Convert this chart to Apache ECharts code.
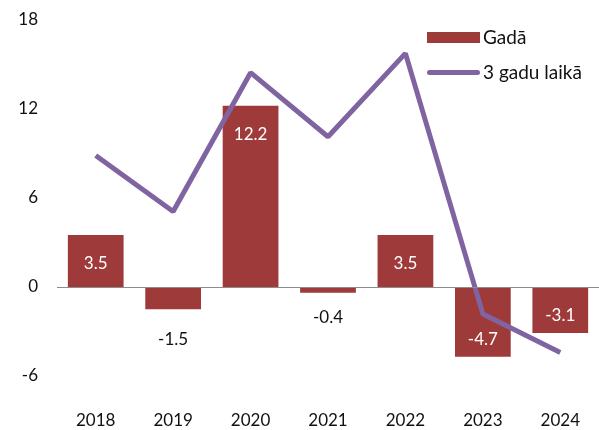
<!DOCTYPE html>
<html><head><meta charset="utf-8">
<script src="https://cdn.jsdelivr.net/npm/echarts@6/dist/echarts.min.js"></script>
<style>html,body{margin:0;padding:0;background:#fff}#c{width:599px;height:430px}</style>
</head><body><div id="c"></div>
<script>
const categories = ['2018','2019','2020','2021','2022','2023','2024'];
const annualValues = [3.5, -1.5, 12.2, -0.4, 3.5, -4.7, -3.1];
const threeYearValues = [8.84, 5.07, 14.42, 10.11, 15.72, -1.82, -4.42];
const yTicks = [-6, 0, 6, 12, 18];
const seriesNames = ['Gadā', '3 gadu laikā'];

const FONT = 'Lato';
const barData = annualValues.map(function (v) {
  var inside = Math.abs(v) >= 2;
  var lbl;
  if (v >= 0) {
    lbl = inside ? {position: 'insideTop', distance: 20, color: '#fff'} : {position: 'top', distance: 14, color: '#111'};
  } else {
    lbl = inside ? {position: 'insideBottom', distance: 9, color: '#fff'} : {position: 'bottom', distance: v < -1 ? 22 : 16, color: '#111'};
  }
  return {value: v, label: lbl};
});

const chart = echarts.init(document.getElementById('c'), null, {renderer: 'canvas'});
chart.setOption({
  animation: false,
  textStyle: {fontFamily: FONT},
  grid: {left: 57, right: 0, top: 19.5, bottom: 54, containLabel: false},
  legend: {
    orient: 'vertical', left: 427, top: 28, itemGap: 16, padding: 0,
    itemWidth: 53, itemHeight: 11,
    textStyle: {fontFamily: FONT, fontSize: 19, color: '#111', padding: [0, 0, 0, -2]},
    data: [
      {name: seriesNames[0], icon: 'rect'},
      {name: seriesNames[1], icon: 'path://M2.5,0 L50.5,0 A2.5,2.5 0 0 1 50.5,5 L2.5,5 A2.5,2.5 0 0 1 2.5,0 Z', itemStyle: {color: '#8064A2'}}
    ]
  },
  xAxis: {
    type: 'category', data: categories, position: 'bottom',
    axisLine: {show: false, onZero: false}, axisTick: {show: false},
    axisLabel: {margin: 36, fontSize: 17, color: '#111', fontFamily: FONT}
  },
  yAxis: {
    type: 'value', min: -6, max: 18, interval: 6,
    axisLine: {show: false}, axisTick: {show: false}, splitLine: {show: false},
    axisLabel: {margin: 19, fontSize: 17, color: '#111', fontFamily: FONT,
      customValues: yTicks}
  },
  series: [
    {
      name: seriesNames[0], type: 'bar', data: barData,
      barCategoryGap: '28%',
      itemStyle: {color: '#9E3A3A'},
      label: {show: true, fontSize: 17, fontFamily: FONT, formatter: function (p) { return p.value.toFixed(1); }},
      markLine: {
        silent: true, symbol: 'none', label: {show: false},
        lineStyle: {color: '#8c8c8c', width: 1, type: 'solid'},
        data: [{yAxis: 0}]
      },
      z: 2
    },
    {
      name: seriesNames[1], type: 'line', data: threeYearValues,
      symbol: 'none', lineStyle: {color: '#8064A2', width: 5}, itemStyle: {color: '#8064A2'},
      z: 3
    }
  ]
});
</script></body></html>
